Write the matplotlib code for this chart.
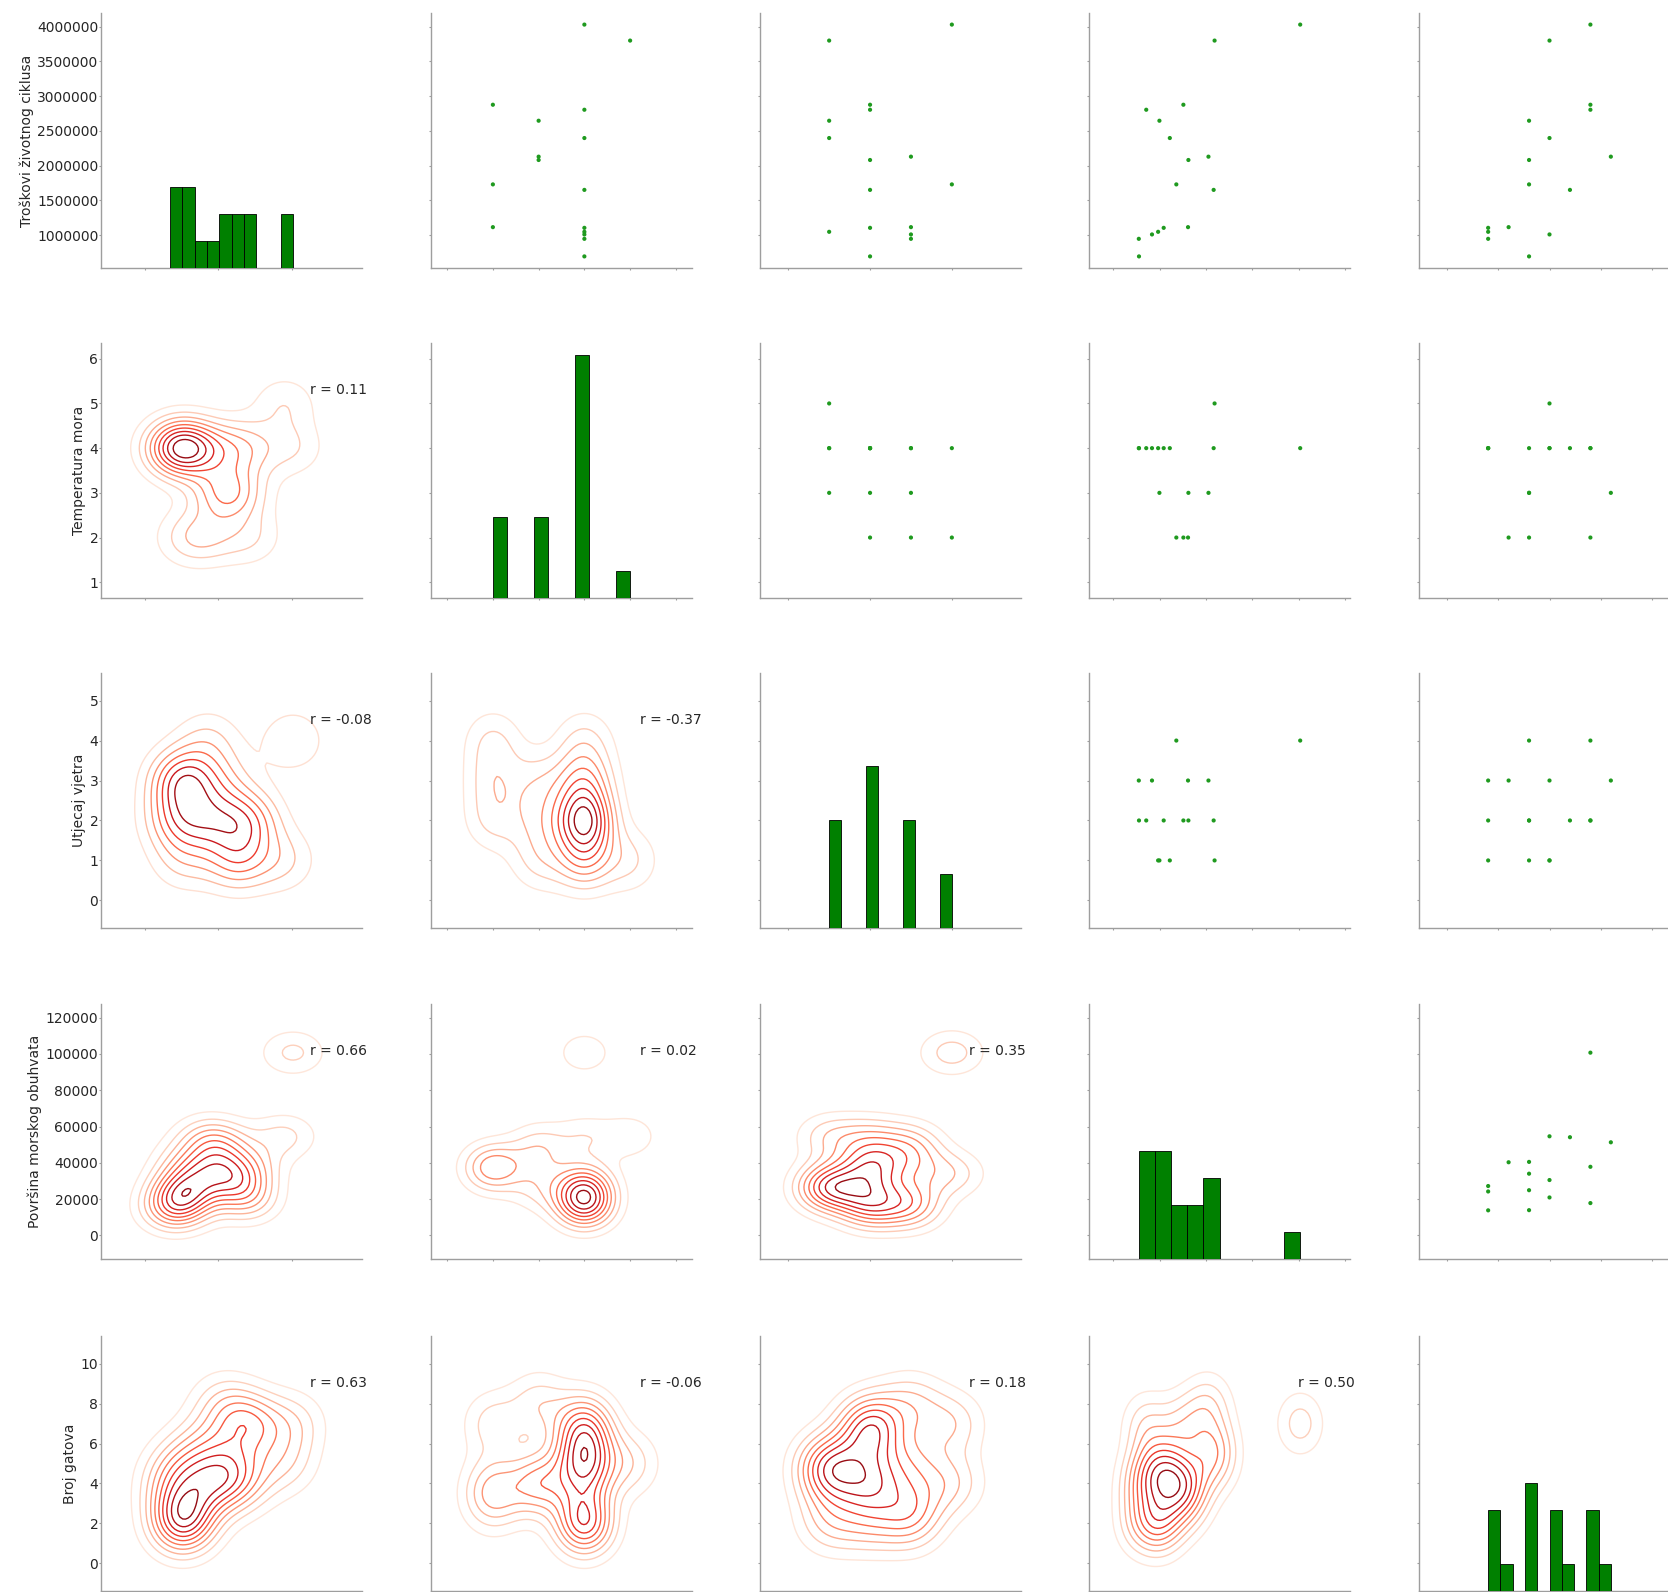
import numpy as np
import matplotlib
matplotlib.use("Agg")
import matplotlib.pyplot as plt

plt.rcParams['font.family'] = ['DejaVu Sans']
plt.rcParams['axes.formatter.limits'] = (-7, 7)
plt.rcParams['axes.formatter.useoffset'] = False

# ---- data (16 observations) ----
variables = ["Troškovi životnog ciklusa", "Temperatura mora", "Utjecaj vjetra",
             "Površina morskog obuhvata", "Broj gatova"]

troskovi = [947000, 694000, 1105000, 1048000, 1115000, 2646000, 2081000, 1730000,
            3799000, 2397000, 1010000, 1651000, 4029000, 2876000, 2804000, 2129000]
temperatura = [4, 4, 4, 4, 2, 3, 3, 2, 5, 4, 4, 4, 4, 2, 4, 3]
vjetar = [3, 2, 2, 1, 3, 1, 2, 4, 1, 1, 3, 2, 4, 2, 2, 3]
povrsina = [13800, 13900, 27200, 24200, 40300, 24900, 40500, 34000,
            54600, 30500, 20900, 54100, 100700, 37800, 17800, 51300]
gatovi = [2, 4, 2, 2, 3, 4, 4, 4, 5, 5, 5, 6, 7, 7, 7, 8]

data = [np.asarray(v, float) for v in (troskovi, temperatura, vjetar, povrsina, gatovi)]
n_vars = len(data)

# ---- KDE helpers (product Gaussian kernel, Scott bandwidth) ----
def bw_scott(x):
    iqr = (np.percentile(x, 75) - np.percentile(x, 25)) / 1.349
    sd = np.std(x, ddof=1)
    a = min(sd, iqr) if iqr > 0 else sd
    return 1.059 * a * len(x) ** (-0.2)

def support(x, cut=3, gridsize=100):
    b = bw_scott(x)
    return np.linspace(x.min() - cut * b, x.max() + cut * b, gridsize)

def kde2d(x, y):
    bx, by = bw_scott(x), bw_scott(y)
    xs, ys = support(x), support(y)
    kx = np.exp(-0.5 * ((xs[:, None] - x[None, :]) / bx) ** 2) / (bx * np.sqrt(2 * np.pi))
    ky = np.exp(-0.5 * ((ys[:, None] - y[None, :]) / by) ** 2) / (by * np.sqrt(2 * np.pi))
    z = ky @ kx.T / len(x)
    xx, yy = np.meshgrid(xs, ys)
    return xx, yy, z

# ---- figure layout (pixel geometry of the reference) ----
W, H = 1668, 1592
fig = plt.figure(figsize=(W / 100, H / 100), dpi=100)
col_left = [101, 431, 760, 1089, 1419]
row_top = [13, 343, 673, 1004, 1336]
aw, ah = 261, 255

axes = [[None] * n_vars for _ in range(n_vars)]
for i in range(n_vars):
    for j in range(n_vars):
        rect = [col_left[j] / W, 1 - (row_top[i] + ah) / H, aw / W, ah / H]
        kw = {}
        if i > 0:
            kw['sharex'] = axes[0][j]
        if j > 0:
            kw['sharey'] = axes[i][0]
        axes[i][j] = fig.add_axes(rect, **kw)

spine_col = '0.62'
for i in range(n_vars):
    for j in range(n_vars):
        ax = axes[i][j]
        for s in ('top', 'right'):
            ax.spines[s].set_visible(False)
        for s in ('left', 'bottom'):
            ax.spines[s].set_color(spine_col)
            ax.spines[s].set_linewidth(1.0)
        ax.tick_params(direction='out', length=1.5, width=0.8, color=spine_col,
                       pad=0.4, labelsize=10, labelcolor='#262626')
        if i < n_vars - 1:
            ax.tick_params(labelbottom=False)
        else:
            ax.set_xlabel(variables[j], fontsize=10, color='#262626')
        if j > 0:
            ax.tick_params(labelleft=False)
        else:
            ax.set_ylabel(variables[i], fontsize=10, color='#262626', labelpad=2.5)

# ---- upper: scatter ----
for i in range(n_vars):
    for j in range(i + 1, n_vars):
        axes[i][j].scatter(data[j], data[i], s=9, color='#1f9a1f', edgecolors='none')

# ---- diagonal: histograms on twin axes sharing y ----
diag_axes = []
for k in range(n_vars):
    ax = axes[k][k]
    kw = {'sharex': ax}
    if diag_axes:
        kw['sharey'] = diag_axes[0]
    dax = fig.add_axes(ax.get_position(), frameon=False, **kw)
    dax.set_axis_off()
    dax.hist(data[k], bins=10, color='green', edgecolor='black', linewidth=0.6)
    diag_axes.append(dax)

# ---- lower: KDE contours + correlation ----
for i in range(n_vars):
    for j in range(i):
        ax = axes[i][j]
        x, y = data[j], data[i]
        xx, yy, z = kde2d(x, y)
        ax.contour(xx, yy, z, 10, cmap='Reds', linewidths=1.0)
        r = np.corrcoef(x, y)[0, 1]
        ax.annotate("r = {:.2f}".format(r), xy=(.8, .8), xycoords=ax.transAxes,
                    fontsize=10, color='#262626', annotation_clip=False)

# ---- limits: columns / rows follow the KDE support ----
for j in range(n_vars):
    s = support(data[j])
    axes[0][j].set_xlim(s[0], s[-1])
for i in range(1, n_vars):
    s = support(data[i])
    axes[i][0].set_ylim(s[0], s[-1])

fig.savefig("out.png", dpi=100)
